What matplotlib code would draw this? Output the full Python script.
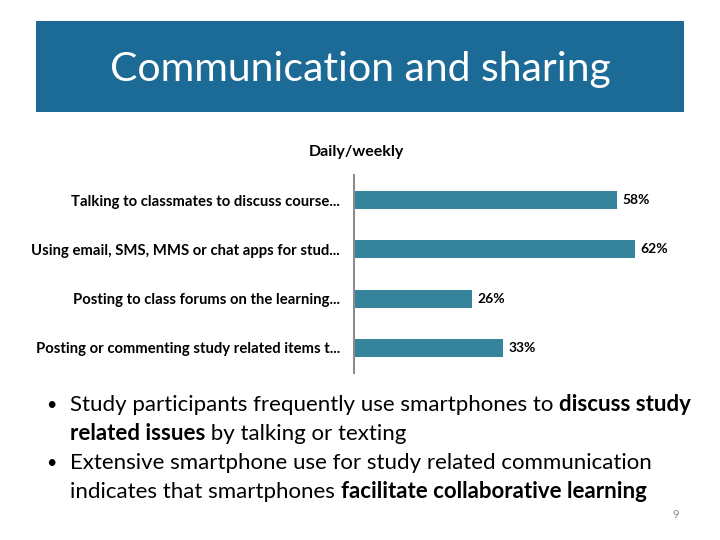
import matplotlib
matplotlib.use("Agg")
import matplotlib.pyplot as plt
from matplotlib.patches import Rectangle

plt.rcParams['font.family'] = ['Lato', 'DejaVu Sans']

title = 'Communication and sharing'
chart_title = 'Daily/weekly'
categories = ['Talking to classmates to discuss course...',
              'Using email, SMS, MMS or chat apps for stud...',
              'Posting to class forums on the learning...',
              'Posting or commenting study related items t...']
values = [58, 62, 26, 33]
bullets = [
    [[('Study participants frequently use smartphones to ', 'normal'), ('discuss study', 'bold')],
     [('related issues', 'bold'), (' by talking or texting', 'normal')]],
    [[('Extensive smartphone use for study related communication', 'normal')],
     [('indicates that smartphones ', 'normal'), ('facilitate collaborative learning', 'bold')]],
]
page_no = '9'

W, H = 720, 540
fig = plt.figure(figsize=(7.2, 5.4), dpi=100)
fig.patch.set_facecolor('white')

def fx(px):
    return px / W

def fy(py):
    return 1 - py / H

# header band
fig.patches.append(Rectangle((fx(36), fy(112)), fx(684) - fx(36), fy(21) - fy(112),
                             transform=fig.transFigure, facecolor='#1c6a96', edgecolor='none'))
fig.text(fx(360), fy(69), title, color='white', fontsize=29.5, ha='center', va='center')

# bar chart
ax = fig.add_axes([fx(354), fy(373), fx(317), fy(175) - fy(373)])
ypos = list(range(len(categories)))
ax.barh(ypos, values, height=0.37, color='#35849c')
ax.set_xlim(0, 70)
ax.set_ylim(3.51, -0.51)
ax.set_yticks(ypos)
ax.set_yticklabels(categories, fontsize=10.7, fontweight='bold')
ax.tick_params(axis='y', length=0, pad=10)
ax.set_xticks([])
for s in ['top', 'right', 'bottom']:
    ax.spines[s].set_visible(False)
ax.spines['left'].set_color('#8c8c8c')
ax.spines['left'].set_linewidth(1.5)
for y, v in zip(ypos, values):
    ax.annotate(f'{v}%', (v, y), xytext=(4, 0), textcoords='offset points',
                va='center', ha='left', fontsize=10, fontweight='bold')
fig.text(fx(356), fy(152), chart_title, ha='center', va='center', fontsize=11.5, fontweight='bold')

# bullet text with mixed weights
fig.canvas.draw()
renderer = fig.canvas.get_renderer()
line_y = [411, 440, 469, 498]
k = 0
for para in bullets:
    fig.text(fx(46), fy(line_y[k] - 1), '\u2022', fontsize=13, ha='left', va='baseline')
    for line in para:
        x = 70
        for txt, weight in line:
            t = fig.text(fx(x), fy(line_y[k]), txt, fontsize=16, fontweight=weight,
                         ha='left', va='baseline')
            bb = t.get_window_extent(renderer)
            x = bb.x1
        k += 1

fig.text(fx(676), fy(515), page_no, fontsize=8, color='#8c8c8c', ha='center', va='center')

fig.savefig('out.png', dpi=100)
